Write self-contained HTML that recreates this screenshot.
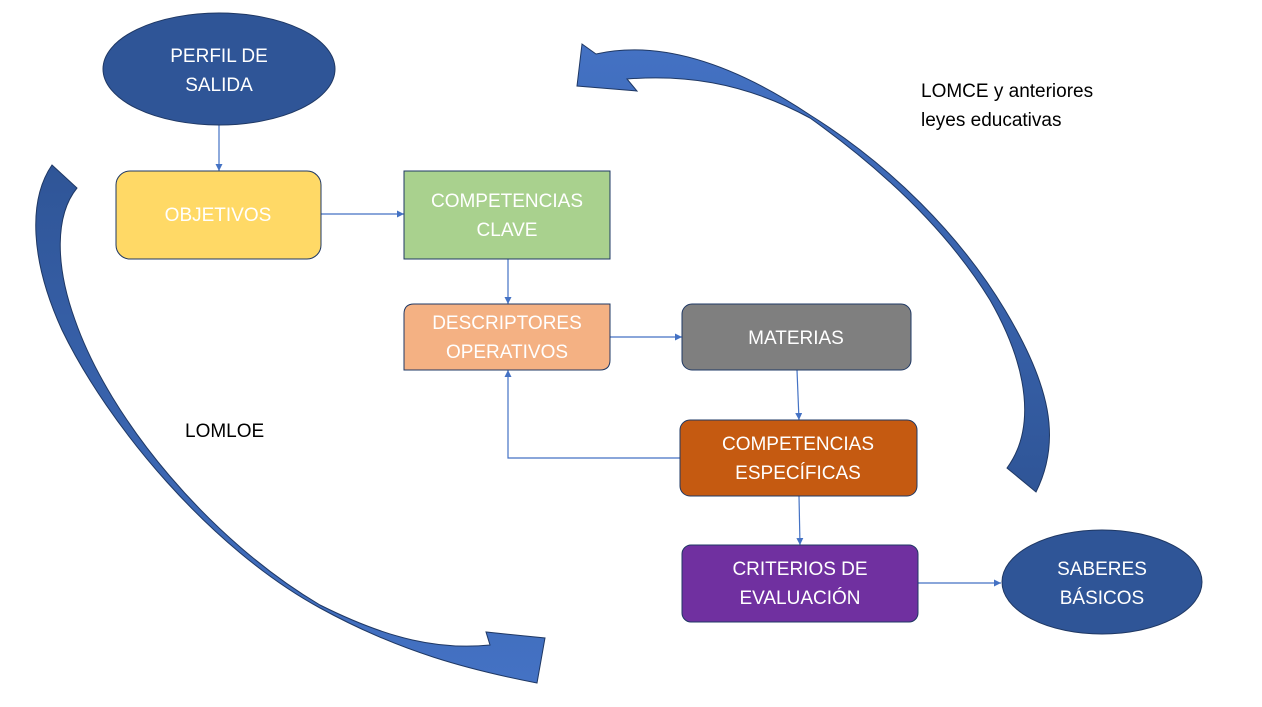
<!DOCTYPE html>
<html><head><meta charset="utf-8"><style>
html,body{margin:0;padding:0;background:#fff;}
svg{display:block;}
text{font-family:"Liberation Sans",sans-serif;}
</style></head><body>
<svg width="1262" height="707" viewBox="0 0 1262 707" xmlns="http://www.w3.org/2000/svg">
<defs>
<linearGradient id="gl" x1="0" y1="0" x2="0" y2="1"><stop offset="0" stop-color="#2f5597"/><stop offset="1" stop-color="#4472c4"/></linearGradient>
<linearGradient id="gr" x1="0" y1="0" x2="0" y2="1"><stop offset="0" stop-color="#4472c4"/><stop offset="1" stop-color="#2f5597"/></linearGradient>
<marker id="ah" viewBox="0 0 10 10" refX="10" refY="5" markerWidth="7" markerHeight="7" orient="auto-start-reverse" markerUnits="userSpaceOnUse"><path d="M0,0 L10,5 L0,10 z" fill="#4472c4"/></marker>
</defs>

<path d="M77,188 C55,215 55,265 75,320 C110,420 210,540 320,605 C390,640 440,650 490,645 L486,632 L545,638 L537,683 C470,670 400,652 320,608 C210,548 108,425 62,330 C30,260 28,200 52,165 Z" fill="url(#gl)" stroke="#1f3864" stroke-width="1"/>
<path d="M1007,468 C1035,430 1030,370 990,300 C950,235 890,175 810,118 C740,80 680,75 627,79 L637,91 L577,86 L582,44 L596,54 C650,42 720,55 810,115 C890,165 960,235 1005,310 C1050,385 1062,440 1036,492 Z" fill="url(#gr)" stroke="#1f3864" stroke-width="1"/>

<g stroke="#4472c4" stroke-width="1.2" fill="none">
<line x1="219" y1="125" x2="219" y2="171" marker-end="url(#ah)"/>
<line x1="321" y1="214" x2="404" y2="214" marker-end="url(#ah)"/>
<line x1="508" y1="259" x2="508" y2="304" marker-end="url(#ah)"/>
<line x1="610" y1="337" x2="682" y2="337" marker-end="url(#ah)"/>
<line x1="797" y1="370" x2="799" y2="420" marker-end="url(#ah)"/>
<polyline points="680,458 508,458 508,370" marker-end="url(#ah)"/>
<line x1="799" y1="496" x2="800" y2="545" marker-end="url(#ah)"/>
<line x1="918" y1="583" x2="1001" y2="583" marker-end="url(#ah)"/>
</g>

<ellipse cx="219" cy="69" rx="116" ry="56" fill="#2f5597" stroke="#1f3864"/>
<rect x="116" y="171" width="205" height="88" rx="14" fill="#ffd966" stroke="#1f3864"/>
<rect x="404" y="171" width="206" height="88" fill="#a9d18e" stroke="#1f3864"/>
<path d="M414,304 L610,304 L610,360 Q610,370 600,370 L404,370 L404,314 Q404,304 414,304 Z" fill="#f4b183" stroke="#1f3864"/>
<rect x="682" y="304" width="229" height="66" rx="10" fill="#7f7f7f" stroke="#1f3864"/>
<rect x="680" y="420" width="237" height="76" rx="10" fill="#c55a11" stroke="#1f3864"/>
<rect x="682" y="545" width="236" height="77" rx="9" fill="#7030a0" stroke="#1f3864"/>
<ellipse cx="1102" cy="582" rx="100" ry="52" fill="#2f5597" stroke="#1f3864"/>

<g fill="#fff" font-size="19" text-anchor="middle">
<text x="219" y="62">PERFIL DE</text>
<text x="219" y="91">SALIDA</text>
<text x="218" y="221">OBJETIVOS</text>
<text x="507" y="207">COMPETENCIAS</text>
<text x="507" y="236">CLAVE</text>
<text x="507" y="329">DESCRIPTORES</text>
<text x="507" y="358">OPERATIVOS</text>
<text x="796" y="344">MATERIAS</text>
<text x="798" y="450">COMPETENCIAS</text>
<text x="798" y="479">ESPECÍFICAS</text>
<text x="800" y="575">CRITERIOS DE</text>
<text x="800" y="604">EVALUACIÓN</text>
<text x="1102" y="575">SABERES</text>
<text x="1102" y="604">BÁSICOS</text>
</g>
<g fill="#000" font-size="19">
<text x="921" y="97">LOMCE y anteriores</text>
<text x="921" y="126">leyes educativas</text>
<text x="185" y="437">LOMLOE</text>
</g>
</svg>
</body></html>
